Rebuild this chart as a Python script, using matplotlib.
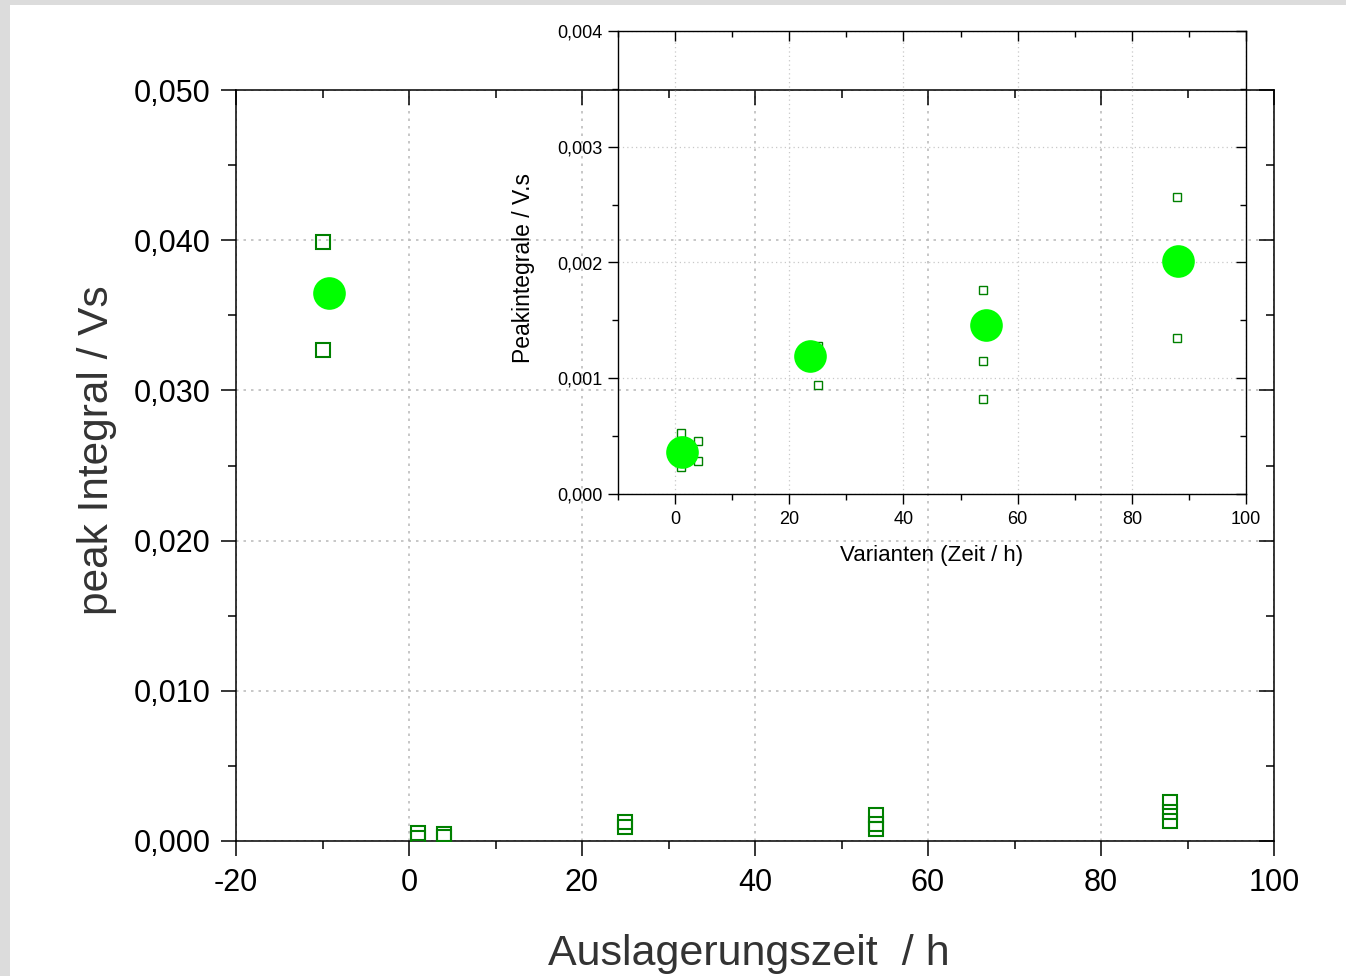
import matplotlib.pyplot as plt
import numpy as np
from matplotlib.ticker import MultipleLocator, FuncFormatter
from matplotlib.patches import Rectangle

plt.rcParams['font.family'] = ['Liberation Sans', 'DejaVu Sans']
plt.rcParams['axes.unicode_minus'] = False

# reference sample (main plot only)
ref_time = [-10, -10]
ref_peak = [0.0399, 0.0327]
ref_mean_time = [-9.2]
ref_mean_peak = [0.0365]

# variants: single measurements
var_time = [1, 1, 4, 4, 25, 25, 54, 54, 54, 88, 88, 88]
var_peak = [0.000524, 0.000233, 0.00046, 0.000285, 0.00128, 0.00094,
            0.00176, 0.00115, 0.00082, 0.00257, 0.00196, 0.00135]
# variants: mean values (inset)
mean_time = [1.2, 23.6, 54.5, 88.1]
mean_peak = [0.00036, 0.00119, 0.00146, 0.00201]

sq_col = '#008000'
dot_col = '#00ff00'
grid_col = '#bdbdbd'


def comma3(v, pos):
    return ('%.3f' % v).replace('.', ',')


fig = plt.figure(figsize=(13.46, 9.76), dpi=100)
fig.patch.set_facecolor('#dcdcdc')
fig.add_artist(Rectangle((10 / 1346, 0), 1, (976 - 5) / 976, transform=fig.transFigure,
                         facecolor='white', edgecolor='none', zorder=-5))

# main axes
ax = fig.add_axes([236 / 1346, (976 - 841) / 976, 1038 / 1346, 751 / 976])
ax.plot(ref_time, ref_peak, 's', ms=10, mfc='none', mec=sq_col, mew=1.5, zorder=3)
ax.plot(var_time, var_peak, 's', ms=10, mfc='none', mec=sq_col, mew=1.5, zorder=3)
ax.plot(ref_mean_time, ref_mean_peak, 'o', ms=23.5, color=dot_col, mec='none', zorder=4)
ax.set_xlim(-20, 100)
ax.set_ylim(0, 0.05)
ax.xaxis.set_major_locator(MultipleLocator(20))
ax.xaxis.set_minor_locator(MultipleLocator(10))
ax.yaxis.set_major_locator(MultipleLocator(0.01))
ax.yaxis.set_minor_locator(MultipleLocator(0.005))
ax.yaxis.set_major_formatter(FuncFormatter(comma3))
ax.tick_params(which='both', top=True, right=True, width=1.1)
ax.tick_params(axis='x', which='both', direction='out', labelsize=22, pad=9)
ax.tick_params(axis='y', which='both', direction='out', labelsize=22, pad=8)
ax.tick_params(which='major', length=10.5)
ax.tick_params(which='minor', length=5.5)
# top / right ticks point inward
for t in ax.xaxis.get_major_ticks() + ax.xaxis.get_minor_ticks():
    t.tick2line.set_marker(3)
for t in ax.yaxis.get_major_ticks() + ax.yaxis.get_minor_ticks():
    t.tick2line.set_marker(0)
for s in ax.spines.values():
    s.set_linewidth(1.1)
ax.grid(True, which='major', color=grid_col, linestyle=(0, (1.5, 3)), linewidth=1.2)
ax.set_axisbelow(True)
ax.set_xlabel('Auslagerungszeit  / h', fontsize=31, color='#333333')
ax.xaxis.label.set_va('baseline')
ax.xaxis.set_label_coords((749 - 236) / 1038, (841 - 965) / 751)
ax.set_ylabel('peak Integral / Vs', fontsize=30.5, color='#333333')
ax.yaxis.set_label_coords((117 - 236) / 1038, (841 - 450) / 751)

# inset
ins = fig.add_axes([618 / 1346, (976 - 494) / 976, 628 / 1346, 463 / 976])
ins.set_facecolor('none')
ins.plot(var_time, var_peak, 's', ms=5.5, mfc='none', mec=sq_col, mew=1.0, zorder=3)
ins.plot(mean_time, mean_peak, 'o', ms=23.5, color=dot_col, mec='none', zorder=4)
ins.set_xlim(-10, 100)
ins.set_ylim(0, 0.004)
ins.xaxis.set_major_locator(MultipleLocator(20))
ins.xaxis.set_minor_locator(MultipleLocator(10))
ins.yaxis.set_major_locator(MultipleLocator(0.001))
ins.yaxis.set_minor_locator(MultipleLocator(0.0005))
ins.yaxis.set_major_formatter(FuncFormatter(comma3))
ins.tick_params(which='both', top=True, right=True, direction='out', width=1.0, labelsize=13)
ins.tick_params(axis='x', pad=5)
ins.tick_params(axis='y', pad=4)
ins.tick_params(which='major', length=7)
ins.tick_params(which='minor', length=4)
for t in ins.xaxis.get_major_ticks() + ins.xaxis.get_minor_ticks():
    t.tick2line.set_marker(3)
for t in ins.yaxis.get_major_ticks() + ins.yaxis.get_minor_ticks():
    t.tick2line.set_marker(0)
for s in ins.spines.values():
    s.set_linewidth(1.0)
ins.grid(True, which='major', color='#c8c8c8', linestyle=(0, (1, 2.5)), linewidth=0.9)
ins.set_axisbelow(True)
ins.set_xlabel('Varianten (Zeit / h)', fontsize=16)
ins.xaxis.label.set_va('baseline')
ins.xaxis.set_label_coords(0.5, (494 - 561) / 463)
ins.set_ylabel('Peakintegrale / V.s', fontsize=16.5)
ins.yaxis.set_label_coords((535 - 618) / 628, (494 - 268) / 463)

fig.savefig('out.png', dpi=100, facecolor=fig.get_facecolor())
